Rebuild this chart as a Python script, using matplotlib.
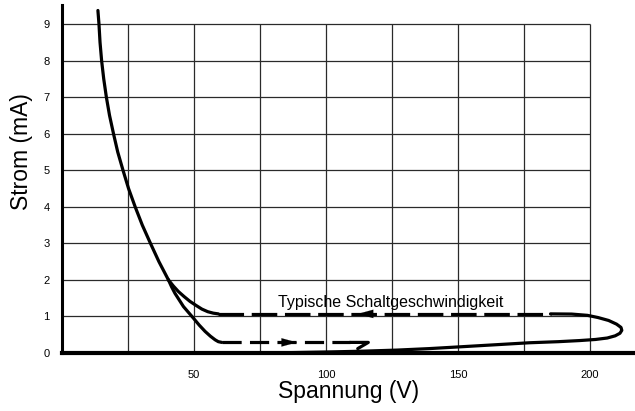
import matplotlib
matplotlib.use("Agg")
import matplotlib.pyplot as plt

plt.rcParams['font.family'] = ['Liberation Sans', 'DejaVu Sans']

# ---- data (V, mA) ----
main_v = [13.6, 14.0, 14.4, 15.0, 15.8, 16.8, 18.0, 19.5, 21.1, 23.1, 25.2, 27.7,
          30.4, 33.5, 36.7, 40.3]
main_i = [9.37, 9.0, 8.5, 8.0, 7.5, 7.0, 6.5, 6.0, 5.5, 5.0, 4.5, 4.0,
          3.5, 3.0, 2.5, 2.0]

upper_v = [40.3, 42.2, 44.1, 46.3, 48.5, 50.8, 53.0, 55.2, 57.3, 59.2]
upper_i = [2.0, 1.83, 1.68, 1.54, 1.41, 1.30, 1.20, 1.13, 1.09, 1.07]

lower_v = [40.3, 41.5, 42.8, 44.4, 46.0, 47.9, 49.8, 52.0, 54.2, 56.2, 58.0, 59.2, 60.5]
lower_i = [2.0, 1.81, 1.63, 1.45, 1.27, 1.11, 0.95, 0.76, 0.59, 0.46, 0.36, 0.31, 0.29]

upper_dash_v = [59.2, 185.0]
upper_dash_i = [1.07, 1.07]

lower_dash_v = [60.5, 109.0]
lower_dash_i = [0.29, 0.29]

hook_v = [109.0, 116.0, 112.0]
hook_i = [0.29, 0.29, 0.12]

loop_v = [185.0, 193.0, 199.0, 203.0, 207.0, 210.0, 211.7, 212.0, 211.3, 209.5,
          206.5, 202.0, 196.0, 188.0, 177.0, 164.0, 151.0, 139.0, 127.0, 114.0,
          102.0, 88.0, 75.0, 62.0]
loop_i = [1.07, 1.065, 1.03, 0.97, 0.89, 0.79, 0.70, 0.62, 0.54, 0.47,
          0.41, 0.37, 0.34, 0.31, 0.28, 0.225, 0.17, 0.12, 0.08, 0.05,
          0.03, 0.012, 0.0, 0.0]

arrow_left_tip = (112.0, 1.07)
arrow_right_tip = (89.0, 0.29)

x_ticks = [50, 100, 150, 200]
y_ticks = [0, 1, 2, 3, 4, 5, 6, 7, 8, 9]
grid_x = [25, 50, 75, 100, 125, 150, 175, 200]
grid_y = [1, 2, 3, 4, 5, 6, 7, 8, 9]

label_text = "Typische Schaltgeschwindigkeit"
x_label = "Spannung (V)"
y_label = "Strom (mA)"

# ---- figure ----
fig = plt.figure(figsize=(6.35, 4.11), dpi=100)
ax = fig.add_axes([62 / 635, 58 / 411, 573 / 635, 348 / 411])
ax.set_xlim(0, 217)
ax.set_ylim(0, 9.52)

# grid (limited to 0..200 V, 0..9 mA)
ax.hlines(grid_y, 0, 200, color='#2a2a2a', lw=0.9, zorder=1)
ax.vlines(grid_x, 0, 9, color='#2a2a2a', lw=0.9, zorder=1)

lw = 2.3
col = 'black'
kw = dict(color=col, lw=lw, zorder=3, solid_joinstyle='round', solid_capstyle='round')
ax.plot(main_v, main_i, **kw)
ax.plot(upper_v, upper_i, **kw)
ax.plot(lower_v, lower_i, **kw)
ax.plot(hook_v, hook_i, **kw)
ax.plot(loop_v, loop_i, **kw)
ax.plot(upper_dash_v, upper_dash_i, color=col, lw=lw, linestyle=(0, (8.0, 2.4)),
        dash_capstyle='butt', zorder=3)
ax.plot(lower_dash_v, lower_dash_i, color=col, lw=lw, linestyle=(0, (6.0, 2.6)),
        dash_capstyle='butt', zorder=3)

# arrowheads
ap = dict(arrowstyle='-|>,head_length=1.1,head_width=0.3', color=col, lw=0.1,
          shrinkA=0, shrinkB=0)
ax.annotate('', xy=arrow_left_tip, xytext=(arrow_left_tip[0] + 7, arrow_left_tip[1]),
            arrowprops=ap, zorder=4)
ax.annotate('', xy=arrow_right_tip, xytext=(arrow_right_tip[0] - 7, arrow_right_tip[1]),
            arrowprops=ap, zorder=4)

ax.text(81.8, 1.38, label_text, ha='left', va='center', fontsize=11.5, color='black')

# axes styling
for s in ['top', 'right']:
    ax.spines[s].set_visible(False)
ax.spines['left'].set_linewidth(2.2)
ax.spines['bottom'].set_linewidth(3.0)
ax.set_xticks(x_ticks)
ax.set_yticks(y_ticks)
ax.tick_params(axis='both', length=0, labelsize=8)
ax.tick_params(axis='x', pad=12)
ax.tick_params(axis='y', pad=9)
ax.set_xlabel(x_label, fontsize=16.5, labelpad=0)
ax.set_ylabel(y_label, fontsize=16.5)
ax.yaxis.set_label_coords(-0.05, 0.578)

fig.savefig('out.png', dpi=100)
